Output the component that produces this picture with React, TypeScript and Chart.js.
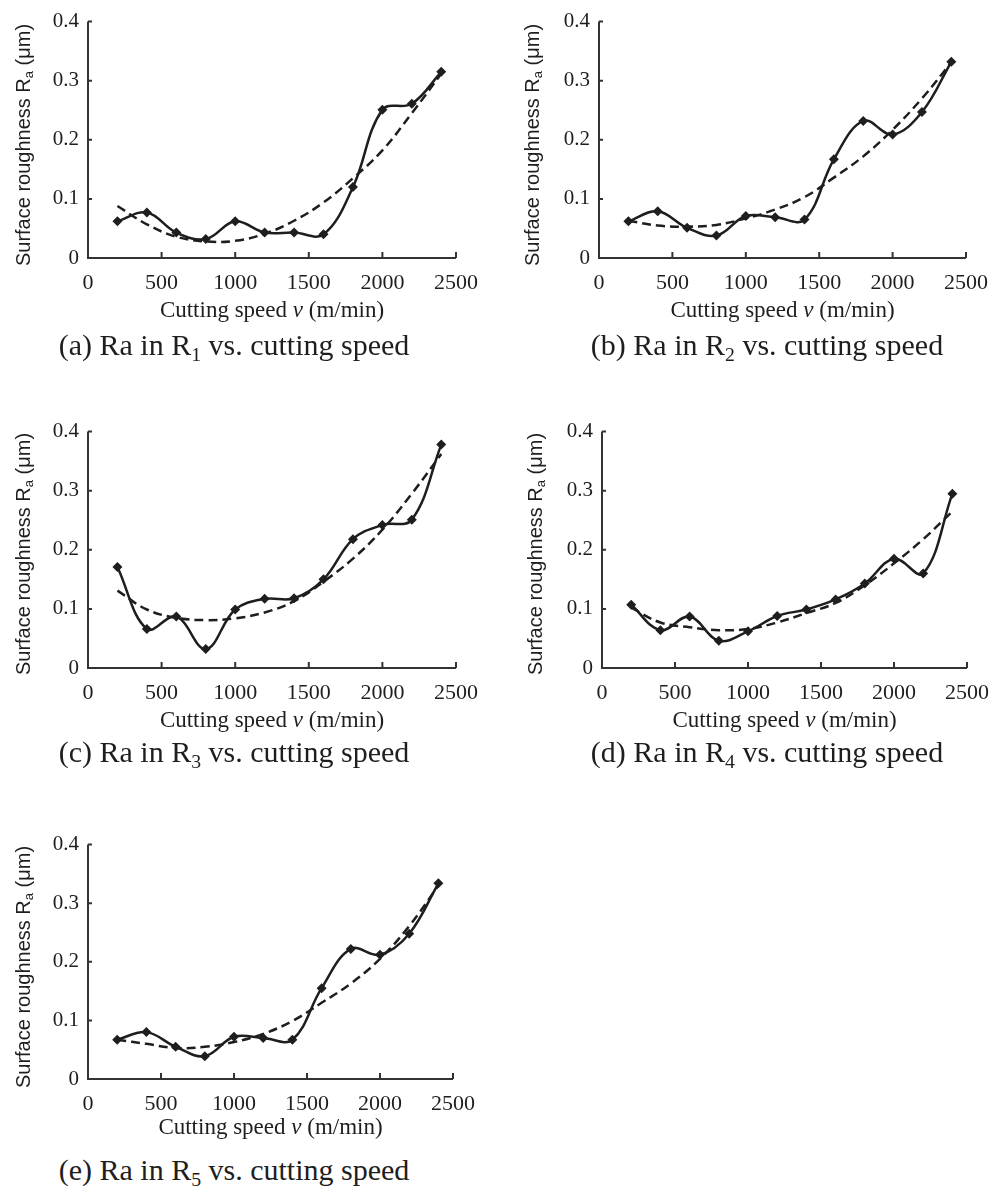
import React, { useEffect, useRef } from "react";
import { Chart, registerables } from "chart.js";

Chart.register(...registerables);

// ---- data ----
const speeds = [200, 400, 600, 800, 1000, 1200, 1400, 1600, 1800, 2000, 2200, 2400];

const raR1 = [0.062, 0.077, 0.043, 0.032, 0.062, 0.043, 0.043, 0.040, 0.120, 0.251, 0.261, 0.315];
const fitR1 = [0.088, 0.057, 0.036, 0.028, 0.029, 0.041, 0.063, 0.094, 0.135, 0.182, 0.245, 0.312];

const raR2 = [0.062, 0.079, 0.051, 0.038, 0.071, 0.069, 0.065, 0.167, 0.232, 0.209, 0.247, 0.332];
const fitR2 = [0.063, 0.055, 0.053, 0.056, 0.067, 0.082, 0.103, 0.136, 0.172, 0.217, 0.270, 0.331];

const raR3 = [0.171, 0.066, 0.087, 0.032, 0.099, 0.117, 0.118, 0.150, 0.218, 0.242, 0.251, 0.378];
const fitR3 = [0.131, 0.099, 0.085, 0.081, 0.084, 0.094, 0.113, 0.146, 0.185, 0.234, 0.295, 0.362];

const raR4 = [0.107, 0.064, 0.087, 0.046, 0.062, 0.088, 0.099, 0.116, 0.143, 0.185, 0.160, 0.295];
const fitR4 = [0.102, 0.077, 0.069, 0.064, 0.066, 0.077, 0.093, 0.110, 0.140, 0.177, 0.218, 0.265];

const raR5 = [0.067, 0.080, 0.055, 0.039, 0.072, 0.070, 0.067, 0.155, 0.222, 0.212, 0.248, 0.334];
const fitR5 = [0.067, 0.060, 0.053, 0.055, 0.063, 0.077, 0.099, 0.130, 0.163, 0.205, 0.261, 0.330];

const xTickValues = [0, 500, 1000, 1500, 2000, 2500];
const yTickValues = [0, 0.1, 0.2, 0.3, 0.4];

const captionLetters = ["a", "b", "c", "d", "e"];
const regionIndex = ["1", "2", "3", "4", "5"];

// ---- layout (page pixels) ----
type Panel = {
  ox: number; oy: number; w: number; h: number;
  left: number; top: number; right: number; bottom: number;
  yTitleX: number; yTitleY: number; xTitleY: number;
  capX: number; capY: number;
  ra: number[]; fit: number[];
};

const panels: Panel[] = [
  { ox: 0, oy: 0, w: 500, h: 330, left: 88, top: 17, right: 456, bottom: 258, yTitleX: 24, yTitleY: 145, xTitleY: 311, capX: 234, capY: 345, ra: raR1, fit: fitR1 },
  { ox: 500, oy: 0, w: 501, h: 330, left: 599, top: 18, right: 966, bottom: 258, yTitleX: 533, yTitleY: 145, xTitleY: 311, capX: 767, capY: 345, ra: raR2, fit: fitR2 },
  { ox: 0, oy: 410, w: 500, h: 330, left: 88, top: 427, right: 456, bottom: 668, yTitleX: 24, yTitleY: 554, xTitleY: 721, capX: 234, capY: 752, ra: raR3, fit: fitR3 },
  { ox: 500, oy: 410, w: 501, h: 330, left: 602, top: 427, right: 967, bottom: 668, yTitleX: 536, yTitleY: 554, xTitleY: 721, capX: 767, capY: 752, ra: raR4, fit: fitR4 },
  { ox: 0, oy: 823, w: 500, h: 330, left: 88, top: 840, right: 453, bottom: 1079, yTitleX: 24, yTitleY: 967, xTitleY: 1128, capX: 234, capY: 1170, ra: raR5, fit: fitR5 },
];

const INK = "#1e1e1e";
const SERIF = "'Liberation Serif', 'Times New Roman', serif";
const SANS = "'Liberation Sans', Arial, sans-serif";

function drawSegments(ctx: CanvasRenderingContext2D, segs: { t: string; font: string; dy: number }[], cx: number, cy: number) {
  let total = 0;
  const widths = segs.map((s) => {
    ctx.font = s.font;
    const w = ctx.measureText(s.t).width;
    total += w;
    return w;
  });
  let x = cx - total / 2;
  segs.forEach((s, i) => {
    ctx.font = s.font;
    ctx.fillText(s.t, x, cy + s.dy);
    x += widths[i];
  });
}

function makeDecor(p: Panel) {
  return {
    id: "decor",
    afterDraw(chart: any) {
      const { ctx, scales } = chart;
      const xs = scales.x;
      const ys = scales.y;
      const x0 = xs.getPixelForValue(0);
      const x1 = xs.getPixelForValue(2500);
      const y0 = ys.getPixelForValue(0);
      const y1 = ys.getPixelForValue(0.4);
      ctx.save();
      ctx.strokeStyle = "#333";
      ctx.lineWidth = 2;
      ctx.lineCap = "butt";
      ctx.beginPath();
      ctx.moveTo(x0, y1);
      ctx.lineTo(x0, y0);
      ctx.lineTo(x1, y0);
      xTickValues.forEach((v) => {
        if (v === 0) return;
        const px = xs.getPixelForValue(v);
        ctx.moveTo(px, y0);
        ctx.lineTo(px, y0 - 6);
      });
      yTickValues.forEach((v) => {
        if (v === 0) return;
        const py = ys.getPixelForValue(v);
        ctx.moveTo(x0, py);
        ctx.lineTo(x0 + 4, py);
      });
      ctx.stroke();

      ctx.fillStyle = INK;
      ctx.textBaseline = "middle";
      ctx.textAlign = "left";
      // x title
      const xf = `23px ${SERIF}`;
      const xfi = `italic 23px ${SERIF}`;
      drawSegments(ctx, [
        { t: "Cutting speed ", font: xf, dy: 0 },
        { t: "v", font: xfi, dy: 0 },
        { t: " (m/min)", font: xf, dy: 0 },
      ], (x0 + x1) / 2, p.xTitleY - p.oy);

      // y title (rotated)
      ctx.save();
      ctx.translate(p.yTitleX - p.ox, p.yTitleY - p.oy);
      ctx.rotate(-Math.PI / 2);
      const yf = `20px ${SANS}`;
      const yfs = `13px ${SANS}`;
      drawSegments(ctx, [
        { t: "Surface roughness R", font: yf, dy: 0 },
        { t: "a", font: yfs, dy: 5 },
        { t: " (\u03bcm)", font: yf, dy: 0 },
      ], 0, 0);
      ctx.restore();
      ctx.restore();
    },
  };
}

function PanelChart({ p }: { p: Panel }) {
  const ref = useRef<HTMLCanvasElement | null>(null);
  useEffect(() => {
    if (!ref.current) return;
    const relLeft = p.left - p.ox;
    const relTop = p.top - p.oy;
    const relRight = p.right - p.ox;
    const relBottom = p.bottom - p.oy;
    const chart = new Chart(ref.current, {
      type: "line",
      data: {
        datasets: [
          {
            data: speeds.map((s, i) => ({ x: s, y: p.ra[i] })),
            borderColor: INK,
            backgroundColor: INK,
            borderWidth: 2.5,
            tension: 0.38,
            pointStyle: "rectRot",
            pointRadius: 5,
            pointBorderWidth: 0,
            pointBackgroundColor: INK,
            fill: false,
          },
          {
            data: speeds.map((s, i) => ({ x: s, y: p.fit[i] })),
            borderColor: INK,
            borderWidth: 2.5,
            borderDash: [9, 5],
            tension: 0.4,
            pointRadius: 0,
            fill: false,
          },
        ],
      },
      options: {
        responsive: false,
        animation: false,
        devicePixelRatio: 1,
        events: [],
        layout: { padding: { left: 0, top: relTop, right: p.w - relRight, bottom: 0 } },
        plugins: { legend: { display: false }, tooltip: { enabled: false } },
        scales: {
          x: {
            type: "linear",
            min: 0,
            max: 2500,
            afterBuildTicks: (s: any) => { s.ticks = xTickValues.map((v) => ({ value: v })); },
            afterFit: (s: any) => { s.height = p.h - relBottom; },
            grid: { display: false, drawTicks: false },
            border: { display: false },
            ticks: {
              padding: 12,
              color: INK,
              maxRotation: 0,
              autoSkip: false,
              font: { family: SERIF, size: 22 },
              callback: (v: any) => String(v),
            },
          },
          y: {
            type: "linear",
            min: 0,
            max: 0.4,
            afterBuildTicks: (s: any) => { s.ticks = yTickValues.map((v) => ({ value: v })); },
            afterFit: (s: any) => { s.width = relLeft; },
            grid: { display: false, drawTicks: false },
            border: { display: false },
            ticks: {
              padding: 9,
              color: INK,
              autoSkip: false,
              font: { family: SERIF, size: 21 },
              callback: (v: any) => (v === 0 ? "0" : Number(v).toFixed(1)),
            },
          },
        },
      },
      plugins: [makeDecor(p)],
    } as any);
    return () => chart.destroy();
  }, [p]);
  return (
    <canvas
      ref={ref}
      width={p.w}
      height={p.h}
      style={{ position: "absolute", left: p.ox, top: p.oy, width: p.w, height: p.h, display: "block" }}
    />
  );
}

export default function App() {
  return (
    <div style={{ position: "absolute", left: 0, top: 0, width: 1001, height: 1186, background: "#fff", overflow: "hidden" }}>
      {panels.map((p, i) => (
        <React.Fragment key={i}>
          <PanelChart p={p} />
          <div
            style={{
              position: "absolute",
              left: p.capX,
              top: p.capY - 16,
              transform: "translateX(-50%)",
              whiteSpace: "nowrap",
              fontFamily: SERIF,
              fontSize: 30,
              lineHeight: "32px",
              color: INK,
            }}
          >
            ({captionLetters[i]}) Ra in R
            <span style={{ fontSize: "0.66em", position: "relative", top: "0.28em" }}>{regionIndex[i]}</span>
            {" "}vs. cutting speed
          </div>
        </React.Fragment>
      ))}
    </div>
  );
}
